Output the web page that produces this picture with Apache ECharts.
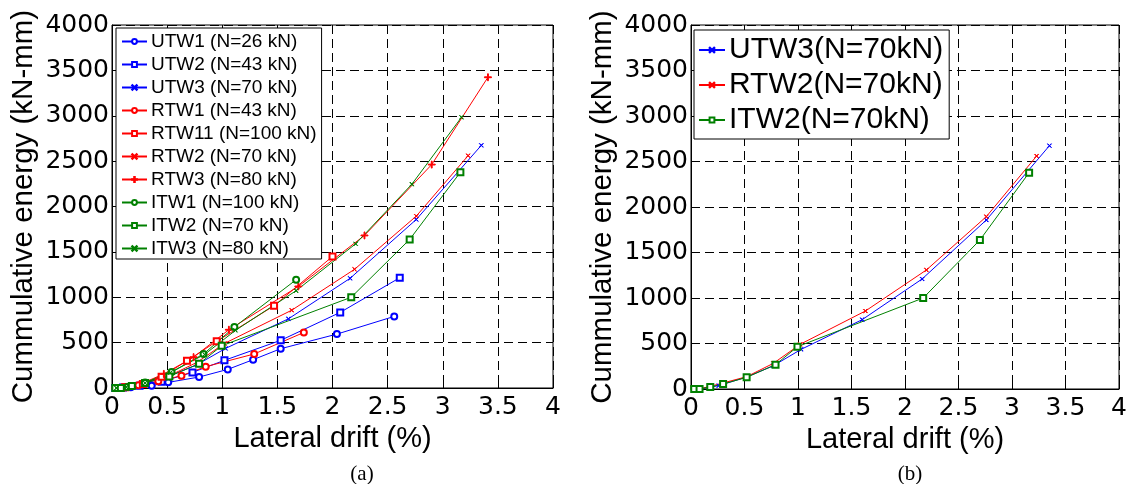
<!DOCTYPE html>
<html>
<head>
<meta charset="utf-8">
<script src="https://cdn.jsdelivr.net/npm/echarts@6/dist/echarts.min.js"></script>
<style>
html, body { margin: 0; padding: 0; background: #fff; }
#energyChart { width: 1132px; height: 484px; }
</style>
</head>
<body>
<div id="energyChart"></div>
<script>
// drift (%) and cumulative energy (kN-mm)
var utw1X = [0.03, 0.08, 0.17, 0.36, 0.51, 0.79, 1.05, 1.28, 1.53, 2.04, 2.56];
var utw1Y = [0, 2, 8, 26, 62, 121, 205, 312, 433, 594, 789];
var utw2X = [0.03, 0.1, 0.25, 0.45, 0.73, 1.02, 1.53, 2.07, 2.61];
var utw2Y = [0, 5, 25, 70, 172, 305, 525, 833, 1215];
var utw3X = [0.03, 0.08, 0.26, 0.52, 0.77, 1.03, 1.6, 2.16, 2.76, 3.35];
var utw3Y = [0, 0, 37, 132, 256, 436, 762, 1209, 1857, 2674];
var rtw1X = [0.03, 0.1, 0.24, 0.42, 0.63, 0.85, 1.29, 1.74];
var rtw1Y = [0, 5, 31, 75, 136, 235, 375, 612];
var rtw11X = [0.04, 0.12, 0.28, 0.45, 0.68, 0.95, 1.47, 2.0];
var rtw11Y = [0, 8, 45, 125, 299, 514, 906, 1450];
var rtw2X = [0.03, 0.07, 0.17, 0.52, 0.77, 1.02, 1.63, 2.2, 2.76, 3.23];
var rtw2Y = [0, 0, 26, 135, 282, 491, 857, 1308, 1894, 2560];
var rtw3X = [0.04, 0.12, 0.28, 0.47, 0.74, 1.06, 1.69, 2.29, 2.9, 3.41];
var rtw3Y = [0, 10, 55, 155, 340, 642, 1119, 1681, 2462, 3424];
var itw1X = [0.04, 0.14, 0.3, 0.54, 0.83, 1.11, 1.67];
var itw1Y = [0, 12, 60, 176, 374, 672, 1193];
var itw2X = [0.03, 0.08, 0.18, 0.3, 0.52, 0.79, 0.995, 2.17, 2.7, 3.16];
var itw2Y = [0, 0, 22, 55, 128, 267, 465, 1000, 1637, 2377];
var itw3X = [0.04, 0.13, 0.3, 0.53, 0.84, 1.12, 1.67, 2.21, 2.72, 3.17];
var itw3Y = [0, 10, 55, 170, 370, 635, 1072, 1589, 2246, 2983];

var namesA = ["UTW1 (N=26 kN)", "UTW2 (N=43 kN)", "UTW3 (N=70 kN)", "RTW1 (N=43 kN)",
  "RTW11 (N=100 kN)", "RTW2 (N=70 kN)", "RTW3 (N=80 kN)", "ITW1 (N=100 kN)",
  "ITW2 (N=70 kN)", "ITW3 (N=80 kN)"];
var namesB = ["UTW3(N=70kN)", "RTW2(N=70kN)", "ITW2(N=70kN)"];

var BLUE = "#0000ff", RED = "#ff0000", GREEN = "#008000";
var FONT = "'Liberation Sans', Arial, sans-serif";
var TICKFONT = "'DejaVu Sans', sans-serif";
var SERIF = "'Liberation Serif', 'Times New Roman', serif";
var xMark = "path://M0,0.6L0.6,0L5,4.4L9.4,0L10,0.6L5.6,5L10,9.4L9.4,10L5,5.6L0.6,10L0,9.4L4.4,5Z";
var plusMark = "path://M4.4,0H5.6V4.4H10V5.6H5.6V10H4.4V5.6H0V4.4H4.4Z";

function pairs (xs, ys) {
  var out = [];
  for (var i = 0; i < xs.length; i++) {
    out.push([xs[i], ys[i]]);
  }
  return out;
}

function line (name, xs, ys, color, symbol, size, idx) {
  return {
    name: name,
    type: "line",
    xAxisIndex: idx,
    yAxisIndex: idx,
    data: pairs(xs, ys),
    symbol: symbol,
    symbolSize: size,
    showSymbol: true,
    color: color,
    lineStyle: { width: 1, color: color },
    itemStyle: { color: color, borderColor: color, borderWidth: 1 },
    emphasis: { disabled: true },
    animation: false,
    z: 3
  };
}

var gridLine = { show: true, lineStyle: { color: "#000", type: [9, 5], width: 1 } };

function xAxisFor (idx) {
  return {
    type: "value",
    gridIndex: idx,
    min: 0,
    max: 4,
    interval: 0.5,
    name: "Lateral drift (%)",
    nameLocation: "middle",
    nameGap: 33,
    nameTextStyle: { fontFamily: FONT, fontSize: 29, color: "#000" },
    axisLine: { show: true, onZero: false, lineStyle: { color: "#000", width: 1 } },
    axisTick: { show: true, inside: true, length: 5, lineStyle: { color: "#000" } },
    axisLabel: { fontFamily: TICKFONT, fontSize: 25, color: "#000", margin: 7 },
    splitLine: gridLine
  };
}

function yAxisFor (idx) {
  return {
    type: "value",
    gridIndex: idx,
    min: 0,
    max: 4000,
    interval: 500,
    name: "Cummulative energy (kN-mm)",
    nameLocation: "middle",
    nameGap: 73,
    nameTextStyle: { fontFamily: FONT, fontSize: 29.5, color: "#000" },
    axisLine: { show: true, lineStyle: { color: "#000", width: 1 } },
    axisTick: { show: true, inside: true, length: 5, lineStyle: { color: "#000" } },
    axisLabel: {
      fontFamily: TICKFONT, fontSize: 25, color: "#000", margin: 3,
      formatter: function (v) { return String(v); }
    },
    splitLine: gridLine
  };
}

var chart = echarts.init(document.getElementById("energyChart"));
var option = {
  backgroundColor: "#fff",
  animation: false,
  title: [
    { text: "(a)", left: 357, top: 459, textAlign: "center", textStyle: { fontFamily: SERIF, fontSize: 21, fontWeight: "normal", color: "#000" } },
    { text: "(b)", left: 905, top: 459, textAlign: "center", textStyle: { fontFamily: SERIF, fontSize: 21, fontWeight: "normal", color: "#000" } }
  ],
  grid: [
    { left: 112, top: 25, width: 441, height: 363, show: true, borderColor: "#000", borderWidth: 1, backgroundColor: "#fff" },
    { left: 691, top: 25, width: 428, height: 364, show: true, borderColor: "#000", borderWidth: 1, backgroundColor: "#fff" }
  ],
  legend: [
    {
      data: namesA,
      orient: "vertical",
      left: 116,
      top: 28,
      padding: [4, 5, 1, 5],
      itemGap: 4,
      itemWidth: 25,
      itemHeight: 6,
      selectedMode: false,
      borderColor: "#000",
      borderWidth: 1,
      backgroundColor: "#fff",
      textStyle: { fontFamily: FONT, fontSize: 19, color: "#000", padding: [0, 0, 0, -1] }
    },
    {
      data: namesB,
      orient: "vertical",
      left: 694,
      top: 30,
      padding: [5, 6, 4, 4],
      itemGap: 5,
      itemWidth: 26,
      itemHeight: 6,
      selectedMode: false,
      borderColor: "#000",
      borderWidth: 1,
      backgroundColor: "#fff",
      textStyle: { fontFamily: FONT, fontSize: 30, color: "#000", padding: [0, 0, 0, -1] }
    }
  ],
  xAxis: [xAxisFor(0), xAxisFor(1)],
  yAxis: [yAxisFor(0), yAxisFor(1)],
  series: [
    line(namesA[0], utw1X, utw1Y, BLUE, "emptyCircle", 6, 0),
    line(namesA[1], utw2X, utw2Y, BLUE, "emptyRect", 6, 0),
    line(namesA[2], utw3X, utw3Y, BLUE, xMark, 4, 0),
    line(namesA[3], rtw1X, rtw1Y, RED, "emptyCircle", 6, 0),
    line(namesA[4], rtw11X, rtw11Y, RED, "emptyRect", 6, 0),
    line(namesA[5], rtw2X, rtw2Y, RED, xMark, 4, 0),
    line(namesA[6], rtw3X, rtw3Y, RED, plusMark, 7, 0),
    line(namesA[7], itw1X, itw1Y, GREEN, "emptyCircle", 6, 0),
    line(namesA[8], itw2X, itw2Y, GREEN, "emptyRect", 6, 0),
    line(namesA[9], itw3X, itw3Y, GREEN, xMark, 4, 0),
    line(namesB[0], utw3X, utw3Y, BLUE, xMark, 4, 1),
    line(namesB[1], rtw2X, rtw2Y, RED, xMark, 4, 1),
    line(namesB[2], itw2X, itw2Y, GREEN, "emptyRect", 6, 1)
  ]
};
chart.setOption(option);
</script>
</body>
</html>
